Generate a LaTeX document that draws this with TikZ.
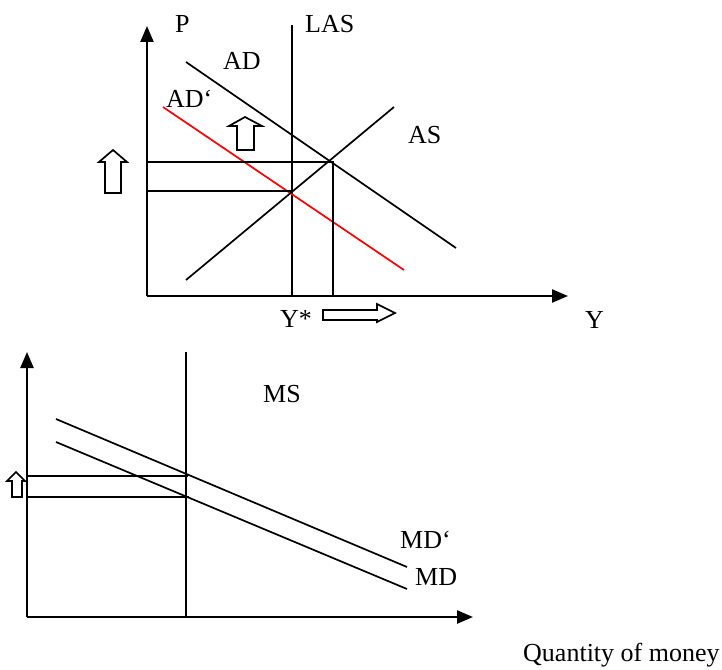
\documentclass[tikz,border=0pt]{standalone}
\usepackage{fontspec}
\setmainfont{Liberation Serif}
\usetikzlibrary{arrows.meta}
\begin{document}
\begin{tikzpicture}[x=1pt,y=-1pt,
  lbl/.style={inner sep=0pt,anchor=base west,font=\fontsize{26}{28}\selectfont},
  ln/.style={line width=1.7pt,black},
  axis/.style={line width=2.4pt,-{Triangle[length=16pt,width=13pt]}},
  blockarrow/.style={line width=1.7pt,fill=white,line join=miter}]
\useasboundingbox (0,0) rectangle (722,669);
% ---------- top chart ----------
\coordinate (O1) at (147,296);
\coordinate (Ytop) at (147,26);
\coordinate (Xend) at (568,296);
\draw[axis] (O1) -- (Ytop);
\draw[axis] (O1) -- (Xend);
\node[lbl] (P) at (175,33) {P};
\node[lbl] (LASl) at (305,33) {LAS};
\node[lbl] (ADl) at (223,70) {AD};
\node[lbl] (ADpl) at (166,107) {AD‘};
\node[lbl] (ASl) at (408,143) {AS};
\node[lbl] (Ystar) at (280,327) {Y*};
\node[lbl] (Yl) at (585,328) {Y};
% LAS
\coordinate (L1) at (292,25);
\coordinate (L0) at (292,296);
\draw[ln] (L1) -- (L0);
% AD
\coordinate (AD1) at (186,62);
\coordinate (AD2) at (456,248);
\draw[ln] (AD1) -- (AD2);
% AD'
\coordinate (ADp1) at (163,107);
\coordinate (ADp2) at (404,270);
\draw[ln,red] (ADp1) -- (ADp2);
% AS
\coordinate (AS1) at (186,280);
\coordinate (AS2) at (394,107);
\draw[ln] (AS1) -- (AS2);
% price levels
\coordinate (E1) at (333,162);
\coordinate (E0) at (292,191);
\coordinate (P1) at (147,162);
\coordinate (P0) at (147,191);
\coordinate (Q1) at (333,296);
\draw[ln] (P1) -- (E1) -- (Q1);
\draw[ln] (P0) -- (E0);
% hollow arrows
\draw[blockarrow] (237,150) -- (237,126) -- (229,126) -- (245,117) -- (262,126) -- (254,126) -- (254,150) -- cycle;
\draw[blockarrow] (105,193) -- (105,162) -- (99,162) -- (113,150) -- (127,162) -- (121,162) -- (121,193) -- cycle;
\draw[blockarrow] (323,310) -- (377,310) -- (377,304) -- (395,313) -- (377,322) -- (377,320) -- (323,320) -- cycle;
% ---------- bottom chart ----------
\coordinate (O2) at (27,617);
\coordinate (Ytop2) at (27,352);
\coordinate (Xend2) at (473,617);
\draw[axis] (O2) -- (Ytop2);
\draw[axis] (O2) -- (Xend2);
\coordinate (MS1) at (186,352);
\coordinate (MS0) at (186,617);
\draw[ln] (MS1) -- (MS0);
\node[lbl] (MSl) at (263,402) {MS};
\coordinate (MDp1) at (56,419);
\coordinate (MDp2) at (407,567);
\draw[ln] (MDp1) -- (MDp2);
\coordinate (MD1) at (56,442);
\coordinate (MD2) at (407,589);
\draw[ln] (MD1) -- (MD2);
\node[lbl] (MDpl) at (400,548) {MD‘};
\node[lbl] (MDl) at (415,585) {MD};
\coordinate (R1) at (27,476);
\coordinate (R1e) at (188,476);
\coordinate (R0) at (27,497);
\coordinate (R0e) at (189,497);
\draw[ln] (R1) -- (R1e);
\draw[ln] (R0) -- (R0e);
\draw[blockarrow] (12,497) -- (12,481) -- (7,481) -- (16,472) -- (25,481) -- (22,481) -- (22,497) -- cycle;
\node[lbl] (Qm) at (523,661) {Quantity of money};
\end{tikzpicture}
\end{document}
